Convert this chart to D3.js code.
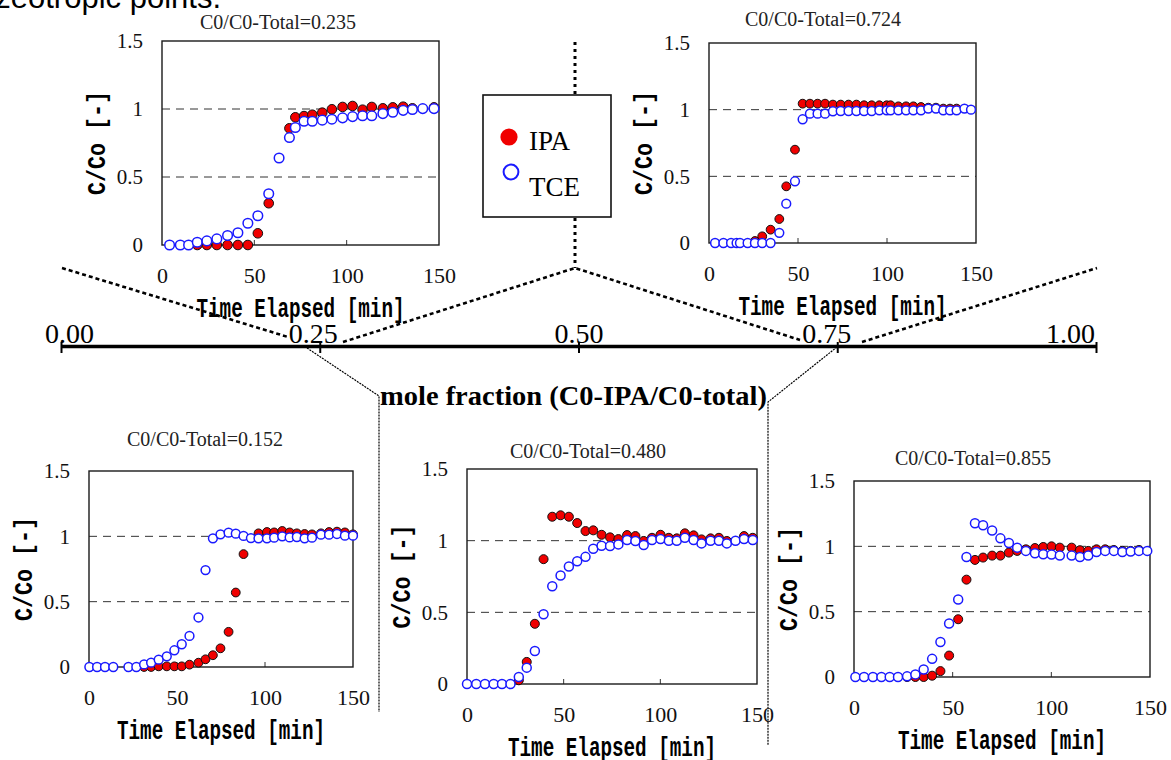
<!DOCTYPE html>
<html>
<head>
<meta charset="utf-8">
<script src="https://cdn.jsdelivr.net/npm/d3@7"></script>
<style>
body { margin: 0; background: #fff; }
svg { display: block; }
</style>
</head>
<body>
<div id="chart"></div>
<script>
// ---- data ----
const titles = ["C0/C0-Total=0.235", "C0/C0-Total=0.724", "C0/C0-Total=0.152", "C0/C0-Total=0.480", "C0/C0-Total=0.855"];
const xTicks = [0, 50, 100, 150];
const yTicks = [0, 0.5, 1, 1.5];
const gridLines = [0.5, 1];
const innerTicks = [50, 100];
const fracTicks = [0, 0.25, 0.5, 0.75, 1];
const seriesNames = ["IPA", "TCE"];

// C0/C0-Total = 0.235
const t235 = [4.1, 9.9, 14.4, 19.1, 24.3, 29.7, 35.5, 41.1, 46.5, 51.9, 57.8, 63.4, 69.0, 72.2, 76.9, 81.4, 86.8, 92.0, 97.8, 103.2, 108.6, 113.6, 119.6, 125.0, 130.6, 135.6, 141.2, 147.3];
const tce235 = [0, 0, 0, 0.02, 0.03, 0.045, 0.07, 0.09, 0.16, 0.215, 0.377, 0.64, 0.79, 0.864, 0.91, 0.91, 0.918, 0.925, 0.935, 0.944, 0.95, 0.95, 0.966, 0.976, 0.99, 0.996, 1.003, 1.003];
const ipa235 = [null, null, null, 0, 0, 0, 0, 0, 0, 0.086, 0.307, null, 0.858, 0.939, 0.948, 0.958, 0.973, 0.998, 1.015, 1.022, 0.995, 1.015, 1.005, 1.012, 1.017, 1.005, null, 1.012];

// C0/C0-Total = 0.724
const t724 = [3.4, 8.1, 12.4, 15.5, 17.4, 21.7, 25.8, 29.9, 34.6, 39.5, 43.4, 48.3, 52.6, 56.7, 61.0, 65.2, 69.6, 74.0, 78.4, 82.8, 87.1, 91.4, 95.7, 99.8, 102.0, 106.4, 110.7, 114.8, 119.1, 123.2, 127.5, 131.6, 135.4, 139.1, 143.5, 147.2];
const tce724 = [0, 0, 0, 0, 0, 0, 0, 0, 0, 0.076, 0.295, 0.463, 0.928, 0.97, 0.97, 0.97, 0.988, 0.99, 0.99, 0.99, 0.99, 0.99, 0.995, 0.995, 0.995, 0.995, 0.995, 0.995, 0.995, 1.008, 1.008, 0.995, 0.995, 0.995, 1.008, 1.0];
const ipa724 = [null, null, null, null, null, null, 0.015, 0.05, 0.10, 0.18, 0.425, 0.70, 1.045, 1.045, 1.045, 1.045, 1.038, 1.038, 1.038, 1.038, 1.033, 1.033, 1.033, 1.033, 1.033, 1.025, 1.025, 1.025, 1.02, 1.015, 1.015, 1.008, 1.008, 1.008, null, null];

// C0/C0-Total = 0.152
const t152 = [0.2, 4.6, 9.1, 13.8, 22.4, 26.9, 31.3, 35.3, 39.6, 44.2, 48.5, 52.7, 57.1, 62.2, 66.2, 70.4, 74.7, 79.3, 83.4, 87.8, 92.0, 96.3, 101.1, 105.2, 109.8, 114.0, 118.1, 122.5, 126.7, 131.8, 136.4, 140.9, 145.4, 150];
const tce152 = [0, 0, 0, 0, 0, 0, 0.02, 0.033, 0.056, 0.082, 0.128, 0.174, 0.238, 0.379, 0.742, 0.985, 1.015, 1.028, 1.02, 1.003, 0.987, 0.985, 0.985, 0.99, 1.0, 0.992, 0.995, 0.985, 0.99, 1.013, 1.013, 1.018, 1.005, 1.005];
const ipa152 = [null, null, null, null, null, null, 0, 0, 0.005, 0.005, 0.005, 0.005, 0.018, 0.033, 0.059, 0.09, 0.143, 0.269, 0.57, 0.864, null, 1.023, 1.033, 1.03, 1.041, 1.03, 1.023, 1.018, 1.015, 1.023, 1.033, 1.036, 1.03, 1.015];

// C0/C0-Total = 0.480
const t480 = [0, 4.8, 9.3, 13.8, 18.1, 22.5, 26.8, 30.9, 35.1, 39.6, 44.1, 48.4, 52.7, 57.0, 61.3, 65.3, 69.6, 74.0, 78.3, 82.8, 87.1, 91.4, 95.7, 100.1, 104.4, 108.5, 112.7, 117.2, 121.3, 126.0, 130.3, 134.4, 138.9, 143.3, 147.8];
const tce480 = [0, 0, 0, 0, 0, 0, 0.049, 0.114, 0.23, 0.487, 0.682, 0.757, 0.82, 0.857, 0.887, 0.943, 0.964, 0.962, 0.974, 1.005, 0.998, 0.97, 1.005, 1.011, 1.0, 1.0, 1.02, 1.005, 0.981, 1.0, 1.0, 0.981, 1.0, 1.011, 1.005];
const ipa480 = [null, null, null, null, null, null, 0.026, 0.154, 0.42, 0.871, 1.167, 1.177, 1.167, 1.123, 1.067, 1.072, 1.041, 1.023, 1.011, 1.039, 1.032, 0.998, 1.02, 1.041, 1.02, 1.016, 1.051, 1.037, 1.009, 1.016, 1.02, 0.998, null, 1.032, 1.02];

// C0/C0-Total = 0.855
const t855 = [0.7, 5.1, 9.6, 13.9, 18.1, 22.3, 26.9, 31.1, 35.3, 39.6, 43.8, 48.2, 52.8, 57.0, 61.3, 65.4, 70.0, 74.2, 78.5, 82.7, 87.1, 91.7, 95.9, 100.1, 104.3, 110.3, 114.5, 118.7, 122.9, 127.3, 131.7, 136.0, 140.2, 144.4, 148.6];
const tce855 = [0, 0, 0, 0, 0, 0, 0.005, 0.02, 0.058, 0.139, 0.268, 0.409, 0.593, 0.919, 1.177, 1.162, 1.121, 1.061, 1.025, 0.99, 0.965, 0.947, 0.939, 0.937, 0.929, 0.929, 0.919, 0.929, 0.957, 0.965, 0.965, 0.957, 0.96, 0.965, 0.965];
const ipa855 = [null, null, null, null, null, null, 0, 0, 0, 0.01, 0.045, 0.164, 0.442, 0.745, 0.896, 0.914, 0.929, 0.929, 0.952, 0.965, 0.977, 0.987, 0.995, 1.0, 0.99, 0.99, 0.97, 0.965, 0.977, 0.977, 0.972, 0.965, 0.965, 0.972, null];

// ---- layout ----
const width = 1171, height = 760;
const serif = "'Liberation Serif', 'Times New Roman', serif";
const gothic = "'Liberation Mono', 'DejaVu Sans Mono', monospace";
const red = "#f00000", blue = "#1a1aff";

var panels = [
    {title: titles[0], t: t235, tce: tce235, ipa: ipa235, left: 162, right: 439, top: 41, bottom: 245, titleX: 278, titleY: 29, r: 4.8},
    {title: titles[1], t: t724, tce: tce724, ipa: ipa724, left: 709, right: 976, top: 43, bottom: 243, titleX: 823, titleY: 26, r: 4.4},
    {title: titles[2], t: t152, tce: tce152, ipa: ipa152, left: 89, right: 353, top: 471, bottom: 667, titleX: 205, titleY: 446, r: 4.4},
    {title: titles[3], t: t480, tce: tce480, ipa: ipa480, left: 467, right: 757, top: 469, bottom: 684, titleX: 588, titleY: 458, r: 4.5},
    {title: titles[4], t: t855, tce: tce855, ipa: ipa855, left: 854, right: 1150, top: 481, bottom: 677, titleX: 973, titleY: 465, r: 4.5}
];

var svg = d3.select("#chart").append("svg")
    .attr("width", width)
    .attr("height", height);

svg.append("rect").attr("width", width).attr("height", height).attr("fill", "#fff");

// sentence cut off at the very top of the page
svg.append("text")
    .attr("x", 221).attr("y", 8)
    .attr("text-anchor", "end")
    .style("font-family", "'Liberation Sans', Arial, sans-serif")
    .style("font-size", "31px")
    .text("azeotropic points.");

function drawConnectors() {
    // heavy dashed lines linking top charts to the fraction axis
    var heavy = [
        [[62, 268], [288, 337]],
        [[343, 342], [575, 268], [800, 340]],
        [[862, 342], [1097, 268]]
    ];
    heavy.forEach(function(pts) {
        svg.append("path")
            .attr("d", d3.line()(pts))
            .attr("fill", "none")
            .style("stroke", "#000")
            .style("stroke-width", 2.6)
            .style("stroke-dasharray", "4,3");
    });
    // dotted vertical line through the legend
    [[42, 95], [218, 268]].forEach(function(seg) {
        svg.append("line")
            .attr("x1", 575).attr("x2", 575)
            .attr("y1", seg[0]).attr("y2", seg[1])
            .style("stroke", "#000")
            .style("stroke-width", 3)
            .style("stroke-dasharray", "3,4");
    });
    // thin dotted lines down to the bottom charts
    var thin = [
        [[307, 348], [379, 396], [379, 712]],
        [[837, 347], [768, 402], [768, 745]]
    ];
    thin.forEach(function(pts) {
        svg.append("path")
            .attr("d", d3.line()(pts))
            .attr("fill", "none")
            .style("stroke", "#000")
            .style("stroke-width", 1.2)
            .style("stroke-dasharray", "2,1");
    });
}

function drawFractionAxis() {
    var fx = d3.scaleLinear().domain([0, 1]).range([61, 1096]);
    var fracShift = [8, -7, 0, -11, -26];
    var ax = svg.append("g")
        .attr("class", "frac-axis")
        .attr("transform", "translate(0,346)")
        .call(d3.axisTop(fx).tickValues(fracTicks).tickFormat(d3.format(".2f"))
            .tickSizeInner(-7).tickSizeOuter(0).tickPadding(3));
    ax.select(".domain").style("stroke", "#000").style("stroke-width", 3.5);
    ax.selectAll(".tick line").style("stroke", "#000").style("stroke-width", 2).attr("y1", -4);
    ax.selectAll(".tick text")
        .attr("dx", (d, i) => fracShift[i])
        .attr("fill", "#000")
        .style("font-family", serif)
        .style("font-size", "28px");

    svg.append("text")
        .attr("x", 380).attr("y", 405)
        .attr("textLength", 387)
        .attr("lengthAdjust", "spacingAndGlyphs")
        .style("font-family", serif)
        .style("font-weight", "bold")
        .style("font-size", "27px")
        .text("mole fraction (C0-IPA/C0-total)");
}

function drawLegend() {
    var lg = svg.append("g").attr("class", "legend");
    lg.append("rect")
        .attr("x", 483).attr("y", 95)
        .attr("width", 128).attr("height", 122)
        .attr("fill", "#fff")
        .style("stroke", "#111")
        .style("stroke-width", 1.6);
    lg.append("circle").attr("cx", 509).attr("cy", 137).attr("r", 8.6)
        .style("fill", red);
    lg.append("circle").attr("cx", 511).attr("cy", 172).attr("r", 7.4)
        .style("fill", "#fff").style("stroke", blue).style("stroke-width", 2);
    lg.selectAll("text.lab")
        .data(seriesNames)
        .enter().append("text")
        .attr("class", "lab")
        .attr("x", 529)
        .attr("y", (d, i) => 150 + i * 45.5)
        .style("font-family", serif)
        .style("font-size", "27px")
        .text(d => d);
}

function drawPanel(p) {
    var x = d3.scaleLinear().domain([0, 150]).range([p.left, p.right]);
    var y = d3.scaleLinear().domain([0, 1.5]).range([p.bottom, p.top]);
    var g = svg.append("g").attr("class", "panel");

    g.selectAll("line.grid")
        .data(gridLines)
        .enter().append("line")
        .attr("class", "grid")
        .attr("x1", p.left).attr("x2", p.right)
        .attr("y1", d => y(d)).attr("y2", d => y(d))
        .style("stroke", "#333")
        .style("stroke-width", 1)
        .style("stroke-dasharray", "8,6");

    g.selectAll("line.itick")
        .data(innerTicks)
        .enter().append("line")
        .attr("class", "itick")
        .attr("x1", d => x(d)).attr("x2", d => x(d))
        .attr("y1", p.bottom).attr("y2", p.bottom - 5)
        .style("stroke", "#333")
        .style("stroke-width", 1);

    g.append("rect")
        .attr("x", p.left).attr("y", p.top)
        .attr("width", p.right - p.left).attr("height", p.bottom - p.top)
        .attr("fill", "none")
        .style("stroke", "#1a1a1a")
        .style("stroke-width", 1.4);

    var xa = g.append("g")
        .attr("transform", "translate(0," + p.bottom + ")")
        .call(d3.axisBottom(x).tickValues(xTicks).tickSize(0).tickPadding(22));
    xa.select(".domain").remove();
    xa.selectAll("text").attr("fill", "#111").style("font-family", serif).style("font-size", "22px");

    var ya = g.append("g")
        .attr("transform", "translate(" + p.left + ",0)")
        .call(d3.axisLeft(y).tickValues(yTicks).tickFormat(d3.format("~g")).tickSize(0).tickPadding(19));
    ya.select(".domain").remove();
    ya.selectAll("text").attr("fill", "#111").style("font-family", serif).style("font-size", "21px");

    // title
    g.append("text")
        .attr("x", p.titleX).attr("y", p.titleY)
        .attr("text-anchor", "middle")
        .attr("fill", "#222")
        .style("font-family", serif)
        .style("font-size", "20px")
        .text(p.title);

    // axis labels
    g.append("text")
        .attr("x", (p.left + p.right) / 2).attr("y", p.bottom + 72)
        .attr("text-anchor", "middle")
        .attr("textLength", 208)
        .attr("lengthAdjust", "spacingAndGlyphs")
        .style("font-family", gothic)
        .style("font-weight", "bold")
        .style("font-size", "27px")
        .text("Time Elapsed [min]");

    g.append("text")
        .attr("transform", "translate(" + (p.left - 64) + "," + ((p.top + p.bottom) / 2) + ") rotate(-90)")
        .attr("text-anchor", "middle")
        .attr("dominant-baseline", "central")
        .attr("textLength", 104)
        .attr("lengthAdjust", "spacingAndGlyphs")
        .style("font-family", gothic)
        .style("font-weight", "bold")
        .style("font-size", "26px")
        .text("C/Co [-]");

    var ipaPts = p.t.map((t, i) => ({t: t, v: p.ipa[i]})).filter(d => d.v !== null);
    var tcePts = p.t.map((t, i) => ({t: t, v: p.tce[i]})).filter(d => d.v !== null);

    g.selectAll("circle.ipa")
        .data(ipaPts)
        .enter().append("circle")
        .attr("class", "ipa")
        .attr("cx", d => x(d.t)).attr("cy", d => y(d.v))
        .attr("r", p.r)
        .style("fill", red)
        .style("stroke", "#111")
        .style("stroke-width", 1);

    g.selectAll("circle.tce")
        .data(tcePts)
        .enter().append("circle")
        .attr("class", "tce")
        .attr("cx", d => x(d.t)).attr("cy", d => y(d.v))
        .attr("r", p.r)
        .style("fill", "#fff")
        .style("stroke", blue)
        .style("stroke-width", 1.5);
}

drawConnectors();
drawFractionAxis();
panels.forEach(drawPanel);
drawLegend();
</script>
</body>
</html>
